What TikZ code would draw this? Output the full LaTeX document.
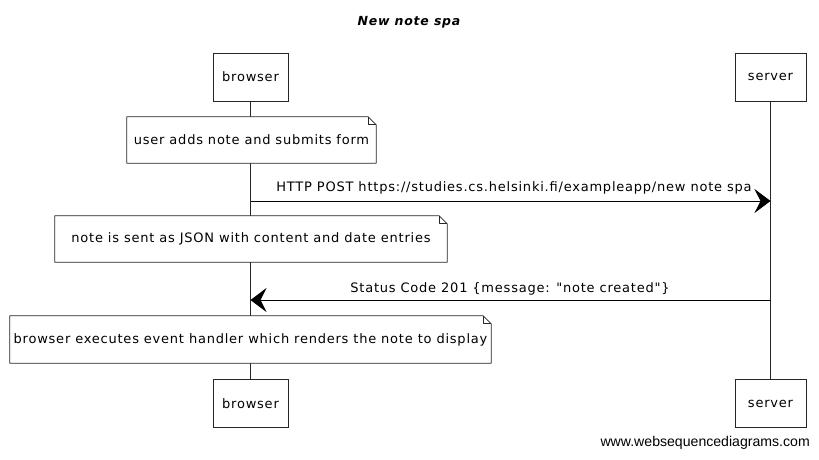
\documentclass[tikz,border=0pt]{standalone}
\usepackage{fontspec}
\setmainfont{DejaVu Sans}
\newfontfamily\handfont[LetterSpace=6]{DejaVu Sans}
\newfontfamily\footfont{Liberation Sans}
\usetikzlibrary{arrows.meta,calc}
\tikzset{
  actor/.style={draw=black!85, line width=0.8pt, fill=white, minimum height=48pt, inner sep=0pt, font=\handfont\fontsize{13}{15}\selectfont},
  notebox/.style={inner sep=0pt, font=\handfont\fontsize{13}{15}\selectfont},
  noteline/.style={draw=black!85, line width=0.8pt, fill=white, line join=round},
  life/.style={draw=black!85, line width=0.8pt},
  msg/.style={draw=black, line width=1pt, -{Stealth[length=16pt,width=24pt,inset=6pt]}},
  lbl/.style={font=\handfont\fontsize{13}{15}\selectfont, inner sep=0pt}
}
\begin{document}
\begin{tikzpicture}[x=1pt,y=-1pt]
\useasboundingbox[fill=white] (0,0) rectangle (819,459);
% title
\node[font=\handfont\bfseries\itshape\fontsize{12.5}{14}\selectfont] (title) at (409,22) {New note spa};
% actors
\node[actor, minimum width=75pt] (b1) at (250.5,77) {browser};
\node[actor, minimum width=71pt] (s1) at (770.5,77) {server};
\node[actor, minimum width=75pt] (b2) at (250.5,403.5) {browser};
\node[actor, minimum width=71pt] (s2) at (770.5,403.5) {server};
% lifelines
\draw[life] (b1.south) -- (b2.north);
\draw[life] (s1.south) -- (s2.north);
% notes
\newcommand{\notefold}[1]{%
  \path[noteline] (#1.north west) -- ($(#1.north east)+(-8,0)$) -- ($(#1.north east)+(0,8)$) -- (#1.south east) -- (#1.south west) -- cycle;
  \draw[noteline, fill=none] ($(#1.north east)+(-8,0)$) -- ($(#1.north east)+(-8,8)$) -- ($(#1.north east)+(0,8)$);
}
\node[notebox, minimum width=249pt, minimum height=46pt] (n1) at (251.5,140) {};
\notefold{n1}
\node[notebox] at (n1) {user adds note and submits form};
\node[notebox, minimum width=392pt, minimum height=46pt] (n2) at (251,239) {};
\notefold{n2}
\node[notebox] at (n2) {note is sent as JSON with content and date entries};
\node[notebox, minimum width=481pt, minimum height=47pt] (n3) at (250.5,339.5) {};
\notefold{n3}
\node[notebox] at (n3) {browser executes event handler which renders the note to display};
% messages
\coordinate (m1) at (0,201);
\coordinate (m2) at (0,300);
\draw[msg] (b1.south |- m1) -- (s1.south |- m1);
\node[lbl] (l1) at (514,188) {HTTP POST https://studies.cs.helsinki.fi/exampleapp/new note spa};
\draw[msg] (s1.south |- m2) -- (b1.south |- m2);
\node[lbl] (l2) at (510,289) {Status Code 201 \{message: "note created"\}};
% footer
\node[font=\footfont\fontsize{14.1}{16}\selectfont, anchor=east, inner sep=0pt] (foot) at (810,443) {www.websequencediagrams.com};
\end{tikzpicture}
\end{document}
